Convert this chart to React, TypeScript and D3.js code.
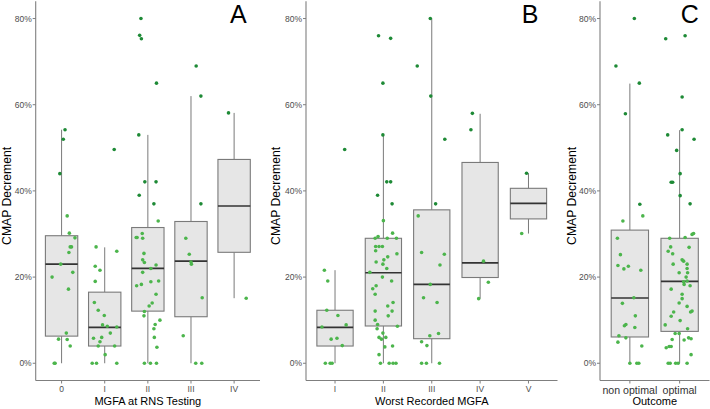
import React from "react";
import * as d3 from "d3";

// ---------- DATA ----------
const yTicks = [0, 20, 40, 60, 80];

// Panel A: MGFA at RNS Testing
const aCats = ["0", "I", "II", "III", "IV"];
const aLow = [0, 0, 0, 0, 15.1];
const aQ1 = [6.3, 4.0, 12.1, 10.8, 25.75];
const aMed = [23.0, 8.35, 22.0, 23.7, 36.5];
const aQ3 = [29.6, 16.5, 31.5, 32.9, 47.3];
const aHigh = [54.2, 26.9, 53.0, 62.0, 58.1];
// [value %, jitter in category units]
const aPoints: number[][][] = [
  [[54.2, 0.08], [52.0, 0.04], [44.0, -0.04], [34.2, 0.13], [30.2, 0.18], [29.1, 0.31], [27.0, 0.2], [27.0, 0.23], [25.7, 0.17], [23.0, -0.02], [21.1, 0.26], [20.0, -0.22], [17.2, 0.16], [7.0, 0.11], [5.6, -0.07], [5.5, 0.13], [4.0, 0.2], [0, -0.17], [0, -0.15]],
  [[49.6, 0.22], [27.0, -0.2], [26.0, 0.28], [22.5, -0.22], [21.6, -0.11], [19.0, -0.22], [14.1, -0.24], [12.3, -0.15], [11.1, -0.01], [8.9, -0.05], [8.6, 0.06], [8.4, 0.28], [7.0, 0.13], [5.8, -0.26], [6.0, -0.07], [5.0, -0.11], [4.0, -0.15], [4.0, 0.23], [2.0, 0.01], [0, -0.29], [0, -0.19], [0, 0.28]],
  [[80.0, -0.16], [76.1, -0.19], [75.3, -0.15], [65.0, 0.2], [53.0, -0.21], [42.1, -0.07], [42.1, 0.19], [39.0, -0.2], [37.0, 0.14], [33.0, 0.24], [30.1, -0.13], [29.2, -0.27], [29.2, -0.25], [29.0, -0.12], [25.5, -0.09], [24.0, -0.12], [23.4, -0.08], [22.8, 0.19], [22.0, 0.07], [21.1, -0.12], [19.1, 0.25], [18.9, 0.07], [18.3, -0.15], [18.0, -0.26], [16.0, 0.19], [14.0, 0.1], [13.3, 0.03], [12.0, -0.08], [11.0, -0.09], [10.0, 0.28], [9.0, 0.17], [8.0, 0.14], [6.0, 0.15], [3.7, 0.21], [0, -0.08], [0, 0.06], [0, 0.2]],
  [[69.0, 0.12], [62.0, 0.23], [37.0, 0.23], [29.0, -0.12], [25.3, -0.04], [23.5, 0.0], [23.0, 0.01], [15.2, 0.26], [6.4, -0.18], [0, 0.11], [0, 0.25]],
  [[58.1, -0.13], [15.1, 0.28]],
];

// Panel B: Worst Recorded MGFA
const bCats = ["I", "II", "III", "IV", "V"];
const bLow = [0, 0, 0, 15.0, 30.1];
const bQ1 = [4.0, 8.65, 5.7, 19.9, 33.5];
const bMed = [8.35, 21.0, 18.3, 23.3, 37.1];
const bQ3 = [12.3, 29.0, 35.6, 46.6, 40.6];
const bHigh = [21.6, 53.0, 80.0, 57.9, 44.1];
const bPoints: number[][][] = [
  [[49.6, 0.2], [21.6, -0.22], [19.1, -0.15], [12.3, -0.17], [11.1, 0.06], [8.9, 0.23], [8.4, -0.27], [5.6, -0.08], [5.8, 0.04], [4.1, 0.15], [0, -0.2], [0, -0.1], [0, -0.06]],
  [[76.0, -0.1], [75.4, 0.15], [65.0, -0.01], [53.0, -0.01], [42.1, 0.07], [42.1, 0.15], [39.0, -0.12], [37.0, 0.18], [33.1, 0.0], [29.4, -0.11], [30.2, 0.19], [29.0, -0.17], [29.0, 0.08], [29.0, 0.27], [27.1, -0.16], [27.1, -0.09], [27.1, -0.02], [26.1, -0.16], [25.4, 0.28], [24.7, 0.09], [23.5, -0.15], [24.0, 0.01], [23.0, -0.01], [22.0, 0.07], [21.1, -0.28], [20.0, -0.02], [19.1, 0.17], [18.0, -0.15], [17.3, -0.22], [16.0, -0.17], [14.1, 0.2], [13.3, 0.09], [12.1, 0.18], [12.1, -0.17], [11.0, 0.1], [10.0, -0.17], [9.0, -0.12], [8.6, 0.29], [8.0, -0.13], [7.0, -0.01], [6.0, -0.09], [6.0, 0.05], [5.6, -0.04], [3.8, 0.03], [4.0, 0.19], [2.0, -0.09], [0, -0.06], [0, 0.12], [0, 0.2], [0, 0.26]],
  [[80.0, -0.03], [69.0, -0.3], [62.0, -0.02], [52.0, 0.27], [37.0, 0.08], [34.2, -0.28], [25.7, -0.21], [25.3, 0.26], [22.8, 0.17], [18.3, -0.03], [15.2, -0.17], [14.1, 0.11], [6.4, -0.04], [6.9, 0.14], [5.0, -0.21], [4.1, -0.1], [0, -0.21], [0, -0.11], [0, 0.16]],
  [[58.0, -0.16], [54.2, -0.19], [23.7, 0.07], [18.8, 0.17], [15.0, -0.03]],
  [[44.1, -0.04], [30.1, -0.14]],
];

// Panel C: Outcome
const cCats = ["non optimal", "optimal"];
const cLow = [0, 0];
const cQ1 = [6.1, 7.4];
const cMed = [15.15, 19.0];
const cQ3 = [30.9, 29.0];
const cHigh = [64.9, 54.1];
const cPoints: number[][][] = [
  [[80.0, 0.09], [69.0, -0.28], [65.0, 0.19], [57.9, -0.09], [36.9, 0.2], [34.2, 0.26], [33.0, -0.14], [29.0, -0.25], [25.2, -0.19], [22.7, -0.24], [22.5, -0.03], [21.9, -0.12], [21.6, 0.22], [15.2, 0.08], [13.9, -0.15], [11.0, 0.11], [8.7, -0.11], [9.0, -0.08], [8.3, 0.1], [6.4, -0.22], [5.9, -0.08], [4.9, -0.24], [4.0, 0.24], [0, 0.0], [0, 0.14], [0, 0.18]],
  [[76.0, 0.11], [75.3, -0.28], [61.8, 0.05], [54.2, 0.05], [53.0, -0.24], [52.0, 0.29], [49.4, -0.06], [44.0, 0.01], [42.0, -0.17], [42.0, -0.14], [38.9, 0.01], [37.0, 0.21], [30.1, 0.28], [29.9, 0.25], [29.0, -0.2], [29.2, 0.11], [26.9, 0.19], [27.0, -0.18], [26.0, -0.23], [25.4, -0.14], [24.0, 0.05], [23.7, 0.08], [23.0, -0.13], [23.0, 0.15], [22.0, 0.15], [21.0, -0.01], [21.0, 0.16], [20.0, 0.13], [19.1, 0.15], [18.9, 0.08], [18.3, 0.09], [18.0, 0.21], [17.2, -0.17], [16.0, 0.05], [15.0, 0.05], [14.0, -0.01], [13.2, 0.15], [12.1, 0.25], [11.9, 0.22], [11.9, -0.12], [10.9, -0.17], [9.9, 0.01], [8.9, -0.29], [8.0, 0.16], [6.9, -0.09], [6.9, -0.01], [5.5, -0.15], [5.4, 0.09], [5.9, 0.18], [5.7, 0.23], [3.6, -0.27], [3.9, -0.21], [3.9, -0.17], [2.0, 0.23], [0, -0.23], [0, -0.19], [0, -0.08], [0, -0.03], [0, 0.15]],
];

// ---------- LAYOUT ----------
const W = 710, H = 409;
const yTop = 1.3, yBot = 380.5;
const font = "'Liberation Sans', Arial, Helvetica, sans-serif";

const y = d3.scaleLinear().domain([-4, 84]).range([yBot, yTop]);

type PanelDef = {
  cats: string[]; low: number[]; q1: number[]; med: number[]; q3: number[]; high: number[];
  pts: number[][][]; x0: number; x1: number; title: string; letter: string; letterX: number;
  yTitleX: number; catFont: number; catColor: string;
};

const panels: PanelDef[] = [
  { cats: aCats, low: aLow, q1: aQ1, med: aMed, q3: aQ3, high: aHigh, pts: aPoints, x0: 35.7, x1: 260, title: "MGFA at RNS Testing", letter: "A", letterX: 230, yTitleX: 10.5, catFont: 8.5, catColor: "#4d4d4d" },
  { cats: bCats, low: bLow, q1: bQ1, med: bMed, q3: bQ3, high: bHigh, pts: bPoints, x0: 306, x1: 557.5, title: "Worst Recorded MGFA", letter: "B", letterX: 521.7, yTitleX: 279.5, catFont: 8.5, catColor: "#4d4d4d" },
  { cats: cCats, low: cLow, q1: cQ1, med: cMed, q3: cQ3, high: cHigh, pts: cPoints, x0: 600, x1: 709.5, title: "Outcome", letter: "C", letterX: 680.7, yTitleX: 575.5, catFont: 10.6, catColor: "#333333" },
];

const ptColor = (v: number) => (v >= 35 ? "#1e8a36" : "#4cb54c");

function Panel({ p }: { p: PanelDef }) {
  const n = p.cats.length;
  const x = d3.scaleLinear().domain([0.4, n + 0.6]).range([p.x0, p.x1]);
  const step = x(2) - x(1);
  const bw = step * 0.75;
  const axisColor = "#7f7f7f";
  return (
    <g>
      {/* boxes */}
      {p.cats.map((c, i) => {
        const cx = x(i + 1);
        return (
          <g key={"b" + c}>
            <line x1={cx} x2={cx} y1={y(p.q3[i])} y2={y(p.high[i])} stroke="#7a7a7a" strokeWidth={1} />
            <line x1={cx} x2={cx} y1={y(p.q1[i])} y2={y(p.low[i])} stroke="#7a7a7a" strokeWidth={1} />
            <rect x={cx - bw / 2} y={y(p.q3[i])} width={bw} height={y(p.q1[i]) - y(p.q3[i])} fill="#e6e6e6" stroke="#7a7a7a" strokeWidth={1.1} />
            <line x1={cx - bw / 2} x2={cx + bw / 2} y1={y(p.med[i])} y2={y(p.med[i])} stroke="#333333" strokeWidth={1.7} />
          </g>
        );
      })}
      {/* points */}
      {p.pts.map((arr, i) =>
        arr.map((d, k) => (
          <circle key={"p" + i + "-" + k} cx={x(i + 1 + d[1])} cy={y(d[0])} r={1.8} fill={ptColor(d[0])} />
        ))
      )}
      {/* axes */}
      <line x1={p.x0} x2={p.x0} y1={yTop} y2={yBot} stroke={axisColor} strokeWidth={1.1} />
      <line x1={p.x0} x2={p.x1} y1={yBot} y2={yBot} stroke={axisColor} strokeWidth={1.1} />
      <g style={{ opacity: 0.999 }}>
        {yTicks.map((t) => (
          <g key={"yt" + t}>
            <line x1={p.x0 - 3} x2={p.x0} y1={y(t)} y2={y(t)} stroke={axisColor} strokeWidth={1} />
            <text x={p.x0 - 4} y={y(t)} dy="0.35em" textAnchor="end" fontSize={8.5} fill="#4d4d4d" fontFamily={font}>
              {t + "%"}
            </text>
          </g>
        ))}
        {p.cats.map((c, i) => (
          <g key={"xt" + c}>
            <line x1={x(i + 1)} x2={x(i + 1)} y1={yBot} y2={yBot + 3} stroke={axisColor} strokeWidth={1} />
            <text x={x(i + 1)} y={yBot + 4} dy={p.catFont * 0.85} textAnchor="middle" fontSize={p.catFont} fill={p.catColor} fontFamily={font}>
              {c}
            </text>
          </g>
        ))}
        <text x={(p.x0 + p.x1) / 2} y={404.5} textAnchor="middle" fontSize={11} fill="#000" fontFamily={font}>
          {p.title}
        </text>
        <text transform={`translate(${p.yTitleX},${(yTop + yBot) / 2 + 5}) rotate(-90)`} textAnchor="middle" fontSize={12.2} fill="#000" fontFamily={font}>
          CMAP Decrement
        </text>
        <text x={p.letterX} y={22.5} fontSize={25} fill="#000" fontFamily={font}>
          {p.letter}
        </text>
      </g>
    </g>
  );
}

export default function App() {
  return (
    <svg width={W} height={H} style={{ position: "absolute", left: 0, top: 0, background: "#fff" }} xmlns="http://www.w3.org/2000/svg">
      <rect width={W} height={H} fill="#fff" />
      {panels.map((p) => (
        <Panel key={p.letter} p={p} />
      ))}
    </svg>
  );
}
